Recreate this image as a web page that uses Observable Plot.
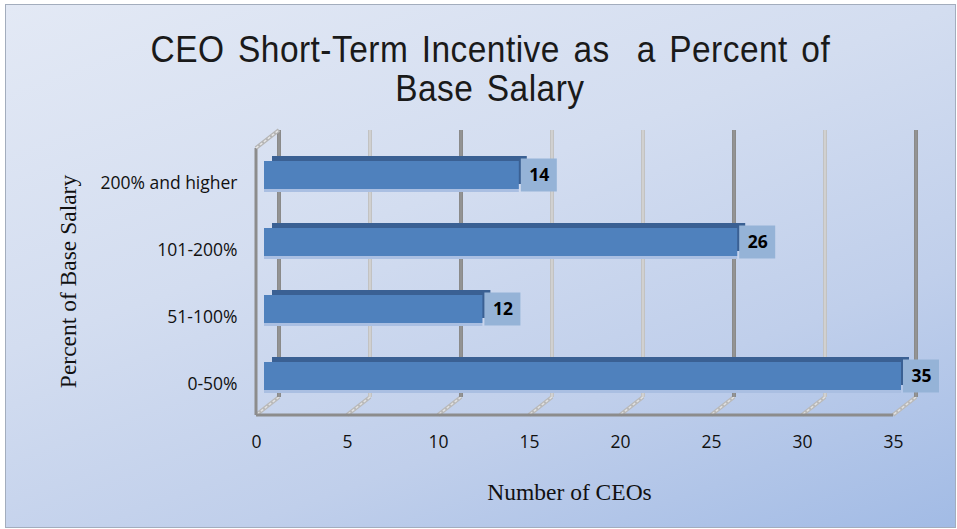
<!DOCTYPE html>
<html>
<head>
<meta charset="utf-8">
<script src="https://cdn.jsdelivr.net/npm/d3@7"></script>
<script src="https://cdn.jsdelivr.net/npm/@observablehq/plot@0.6"></script>
<style>
  html, body { margin: 0; padding: 0; background: #ffffff; }
  #wrap { position: relative; width: 957px; height: 529px; overflow: hidden; background: #ffffff; }
  #bg {
    position: absolute; left: 5px; top: 4px; width: 951px; height: 524px; box-sizing: border-box;
    border: 1px solid #a3adbd;
    background: linear-gradient(160deg, #e3e9f5 0%, #d3ddf0 40%, #c0cfeb 70%, #a2bbe5 100%);
  }
  #title {
    position: relative; box-sizing: border-box; width: 957px; height: 110px;
    padding: 30px 0 0 23px; text-align: center;
    font-family: "Liberation Sans", Arial, sans-serif; font-size: 36px; line-height: 39px; color: #1a1a1a;
  }
  #title span {
    display: inline-block; white-space: pre; transform: scaleX(0.93); transform-origin: 50% 50%;
    letter-spacing: 0.5px; word-spacing: 4px;
  }
  #chart { position: relative; }
</style>
</head>
<body>
<div id="wrap">
  <div id="bg"></div>
  <div id="title"><span>CEO Short-Term Incentive as  a Percent of</span><br><span>Base Salary</span></div>
  <div id="chart"></div>
</div>
<script>
const categories = ["200% and higher", "101-200%", "51-100%", "0-50%"];
const counts = [14, 26, 12, 35];
const xTicks = [0, 5, 10, 15, 20, 25, 30, 35];
const xTitle = "Number of CEOs";
const yTitle = "Percent of Base Salary";

const data = categories.map((c, i) => ({cat: c, value: counts[i]}));
const darkTicks = new Set([0, 10, 25, 35]);

function frame3d(index, scales, values, dims) {
  const x = scales.x;
  const g = d3.create("svg:g");
  const top = dims.marginTop - 11.5;
  const fb = dims.height - dims.marginBottom;
  const gridBottom = fb - 12.5;
  const floorY = fb + 5.5;
  const back = 15, front = -8;
  for (const i of index) {
    const t = xTicks[i];
    g.append("line").attr("x1", x(t) + back).attr("y1", gridBottom).attr("x2", x(t) + front).attr("y2", floorY)
      .attr("stroke", "#b9b9b9").attr("stroke-width", 4);
    g.append("line").attr("x1", x(t) + back).attr("y1", gridBottom).attr("x2", x(t) + front).attr("y2", floorY)
      .attr("stroke", "#e2e2e2").attr("stroke-width", 1.5).attr("stroke-dasharray", "3,2");
  }
  for (const i of index) {
    const t = xTicks[i];
    const dark = darkTicks.has(t);
    g.append("line").attr("x1", x(t) + back).attr("x2", x(t) + back).attr("y1", top).attr("y2", gridBottom)
      .attr("stroke", dark ? "#8a8a8a" : "#c2c2c2").attr("stroke-width", 4);
    g.append("line").attr("x1", x(t) + back).attr("x2", x(t) + back).attr("y1", top).attr("y2", gridBottom)
      .attr("stroke", dark ? "#999999" : "#dadada").attr("stroke-width", 1.2);
  }
  g.append("line").attr("x1", x(xTicks[0]) + front).attr("x2", x(xTicks[xTicks.length - 1]) + front)
    .attr("y1", floorY).attr("y2", floorY).attr("stroke", "#8c8c8c").attr("stroke-width", 3);
  const lw = x(xTicks[0]) + front;
  g.append("line").attr("x1", lw).attr("x2", lw).attr("y1", top + 18).attr("y2", floorY)
    .attr("stroke", "#8c8c8c").attr("stroke-width", 3);
  g.append("line").attr("x1", lw).attr("y1", top + 18).attr("x2", x(xTicks[0]) + back).attr("y2", top)
    .attr("stroke", "#b5b5b5").attr("stroke-width", 4);
  g.append("line").attr("x1", lw).attr("y1", top + 18).attr("x2", x(xTicks[0]) + back).attr("y2", top)
    .attr("stroke", "#e6e6e6").attr("stroke-width", 1.5).attr("stroke-dasharray", "3,2");
  return g.node();
}

const chart = Plot.plot({
  width: 957,
  height: 419,
  marginLeft: 264,
  marginRight: 56,
  marginTop: 31.5,
  marginBottom: 119.5,
  style: {background: "transparent", overflow: "visible"},
  x: {domain: [0, 35], axis: null},
  y: {domain: categories, axis: null, paddingInner: 0.582, paddingOuter: 0.291},
  marks: [
    Plot.ruleX(xTicks, {x: d => d, render: frame3d}),
    Plot.barX(data, {x: "value", y: "cat", fill: "#aabfe2", dy: 3}),
    Plot.barX(data, {x: "value", y: "cat", fill: "#3a6093", dx: 8, dy: -5}),
    Plot.barX(data, {x: "value", y: "cat", fill: "#4f81bd"}),
    Plot.barX(data, {x1: "value", x2: "value", y: "cat", fill: "#95b3d7",
      insetLeft: 2, insetRight: -38, insetTop: -2.5, insetBottom: -2.5}),
    Plot.text(data, {x: "value", y: "cat", text: d => String(d.value), dx: 20,
      fontFamily: "Open Sans", fontWeight: "bold", fontSize: 17.5, fill: "#000"}),
    Plot.text(categories, {y: d => d, text: d => d, frameAnchor: "left", textAnchor: "end",
      dx: -27, dy: 8, fontFamily: "Open Sans", fontSize: 17.5, fill: "#111"}),
    Plot.text(xTicks, {x: d => d, text: d => String(d), frameAnchor: "bottom", dx: -8, dy: 38,
      fontFamily: "Open Sans", fontSize: 17.5, fill: "#111"}),
    Plot.text([xTitle], {text: d => d, frameAnchor: "bottom", dx: -13.5, dy: 90,
      fontFamily: "Liberation Serif", fontSize: 23.5, fill: "#111"}),
    Plot.text([yTitle], {text: d => d, frameAnchor: "left", textAnchor: "middle", rotate: -90, dx: -196, dy: 5.5,
      fontFamily: "Liberation Serif", fontSize: 23.5, fill: "#111"})
  ]
});
document.getElementById("chart").appendChild(chart);
</script>
</body>
</html>
